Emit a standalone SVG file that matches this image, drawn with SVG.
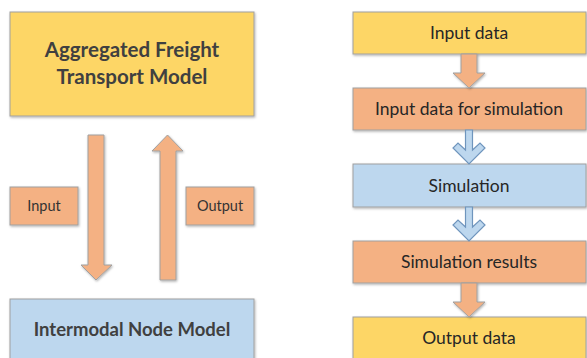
<svg xmlns="http://www.w3.org/2000/svg" width="587" height="358" viewBox="0 0 587 358">
  <defs>
    <filter id="soft" x="-10%" y="-10%" width="120%" height="130%">
      <feDropShadow dx="0.8" dy="1.2" stdDeviation="1" flood-color="#000" flood-opacity="0.3"/>
    </filter>
    <style>
      .box { stroke: #a0a0a0; stroke-width: 1; filter: url(#soft); }
      .yellow { fill: #fdd666; }
      .orange { fill: #f4b183; }
      .blue { fill: #bdd7ee; }
      .arrow { fill: #f4b183; stroke: #a0a0a0; stroke-width: 1; filter: url(#soft); }
      .chev { fill: #bdd7ee; stroke: #6f95bd; stroke-width: 1.2; }
      text { font-family: Lato, "Liberation Sans", sans-serif; text-anchor: middle; }
      .title { font-size: 20.5px; font-weight: bold; fill: #404040; }
      .tag { font-size: 14.5px; fill: #333333; }
      .step { font-size: 17.5px; fill: #262626; }
    </style>
  </defs>
  <rect width="587" height="358" fill="#ffffff"/>

  <!-- left: model coupling -->
  <g id="freight-model">
    <rect class="box yellow" x="10" y="12" width="244" height="104"/>
    <text class="title" x="132" y="57">Aggregated Freight</text>
    <text class="title" x="132" y="84">Transport Model</text>
  </g>
  <g id="input-label">
    <rect class="box orange" x="10" y="187" width="68" height="38"/>
    <text class="tag" x="44" y="211">Input</text>
  </g>
  <g id="output-label">
    <rect class="box orange" x="186" y="187" width="68" height="38"/>
    <text class="tag" x="220" y="211">Output</text>
  </g>
  <g id="node-model">
    <rect class="box blue" x="10" y="299" width="244" height="80"/>
    <text class="title" x="132" y="336" style="font-size:18.5px">Intermodal Node Model</text>
  </g>

  <!-- right: simulation steps -->
  <g id="input-data">
    <rect class="box yellow" x="353" y="12" width="233" height="42"/>
    <text class="step" x="469" y="38.5">Input data</text>
  </g>
  <g id="input-for-simulation">
    <rect class="box orange" x="353" y="88" width="233" height="42"/>
    <text class="step" x="469" y="114.5">Input data for simulation</text>
  </g>
  <g id="simulation">
    <rect class="box blue" x="353" y="164" width="233" height="43"/>
    <text class="step" x="469" y="191.5">Simulation</text>
  </g>
  <g id="simulation-results">
    <rect class="box orange" x="353" y="241" width="233" height="42"/>
    <text class="step" x="469" y="267.5">Simulation results</text>
  </g>
  <g id="output-data">
    <rect class="box yellow" x="353" y="317" width="233" height="60"/>
    <text class="step" x="469" y="343.5">Output data</text>
  </g>

  <!-- connectors -->
  <g id="connectors">
    <!-- model to node (down) and node to model (up) -->
    <path class="arrow" d="M88,135 H104 V265 H112 L96,280 L81,265 H88 Z"/>
    <path class="arrow" d="M160,280 H176 V151 H183 L167.5,135 L152,151 H160 Z"/>
    <!-- step arrows -->
    <path class="arrow" d="M461,54 H477 V73 H485 L469,88 L453,73 H461 Z"/>
    <path class="chev" d="M465.5,130 H472.5 V150 L480,143 L485,148 L469,164 L453,148 L458,143 L465.5,150 Z"/>
    <path class="chev" d="M465.5,207 H472.5 V227 L480,220 L485,225 L469,241 L453,225 L458,220 L465.5,227 Z"/>
    <path class="arrow" d="M461,283 H477 V302 H485 L469,317 L453,302 H461 Z"/>
  </g>
</svg>
